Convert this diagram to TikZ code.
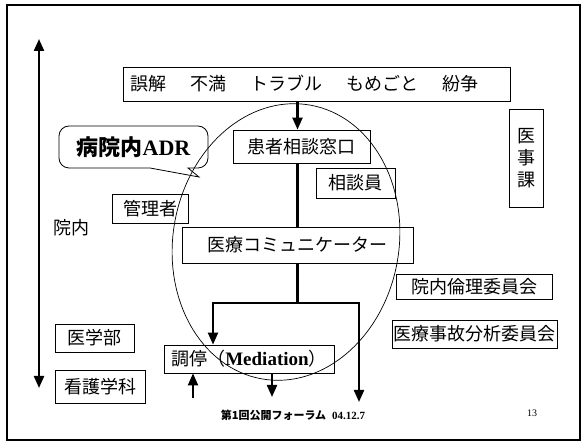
\documentclass[tikz,border=0pt]{standalone}
\usepackage{fontspec}
\setmainfont{Noto Sans CJK JP}
\newfontfamily\lser{Liberation Serif}
\usetikzlibrary{arrows.meta}
\begin{document}
\begin{tikzpicture}[x=1pt,y=-1pt,
  box/.style={draw,line width=0.8pt,inner sep=0pt,font=\fontsize{18}{20}\selectfont},
  lbl/.style={inner sep=0pt,font=\fontsize{18}{20}\selectfont},
  conn/.style={line width=2.2pt},
  arr/.style={conn,-{Triangle[width=10pt,length=12pt]}},
  dblarr/.style={line width=2.2pt,{Triangle[width=10pt,length=12pt]}-{Triangle[width=10pt,length=12pt]}},
]
\useasboundingbox (0,0) rectangle (582,443);
\draw[line width=1.2pt] (7,5) rectangle (580,440);

% ellipse
\draw[line width=0.7pt,rotate around={-10:(286,242)}] (286,242) ellipse [x radius=113pt, y radius=139pt];

% boxes
\node[box,minimum width=387pt,minimum height=34pt] (top) at (316.5,84)
  {誤解\hspace{24pt}不満\hspace{24pt}トラブル\hspace{24pt}もめごと\hspace{24pt}紛争\kern24pt\null};
\node[box,minimum width=137pt,minimum height=33pt] (kanja) at (301.5,146.5) {患者相談窓口};
\node[box,minimum width=79pt,minimum height=30pt] (sodan) at (355.5,183) {相談員};
\node[box,minimum width=34pt,minimum height=98pt,align=center,font=\fontsize{18}{22}\selectfont] (iji) at (526,158) {医\\事\\課};
\node[box,minimum width=76pt,minimum height=29pt] (kanri) at (150,208.5) {管理者};
\node[lbl] (innai) at (71,228) {院内};
\node[box,minimum width=231pt,minimum height=36pt] (comm) at (297.5,245) {医療コミュニケーター};
\node[box,minimum width=156pt,minimum height=25pt] (rinri) at (474,287) {院内倫理委員会};
\node[box,minimum width=165pt,minimum height=28pt] (jiko) at (474.5,334) {医療事故分析委員会};
\node[box,minimum width=170pt,minimum height=28pt] (chotei) at (249,359)
  {調停（{\lser\bfseries\fontsize{19}{20}\selectfont Mediation}）};
\node[box,minimum width=79pt,minimum height=28pt] (igaku) at (94.5,338) {医学部};
\node[box,minimum width=90pt,minimum height=33pt] (kango) at (100,386.5) {看護学科};

% callout
\draw[line width=0.8pt] (150,168) [rounded corners=10pt] -- (59,168) -- (59,126) -- (208,126) -- (208,168)
  [sharp corners] -- (188,168) -- (199,177) -- cycle;
\node[inner sep=0pt] (adr) at (133.5,147) {\fontsize{22}{24}\selectfont\bfseries 病院内{\lser ADR}};

% footer
\node[inner sep=0pt] (foot) at (293,415) {\fontsize{11}{12}\selectfont\bfseries 第1回公開フォーラム\hspace{6pt}{\lser 04.12.7}};
\node[inner sep=0pt] (pg) at (532,413) {\lser\fontsize{10}{12}\selectfont 13};

% connectors
\coordinate (vt) at (39,39);
\coordinate (vb) at (39,388);
\draw[dblarr] (vt) -- (vb);

\draw[arr] (top.south -| comm.north) -- (kanja.north -| comm.north);
\draw[conn] (kanja.south -| comm.north) -- (comm.north);

\coordinate (jl) at (213,303);
\coordinate (jr) at (359,303);
\coordinate (endr) at (359,402);
\draw[arr] (comm.south |- jl) -- (jl) -- (jl |- chotei.north);
\draw[arr] (comm.south) -- (comm.south |- jr) -- (jr) -- (endr);

\coordinate (d1) at (272,397);
\draw[arr] (chotei.south -| d1) -- (d1);
\coordinate (u1) at (193,398);
\draw[arr] (u1) -- (u1 |- chotei.south);
\end{tikzpicture}
\end{document}
